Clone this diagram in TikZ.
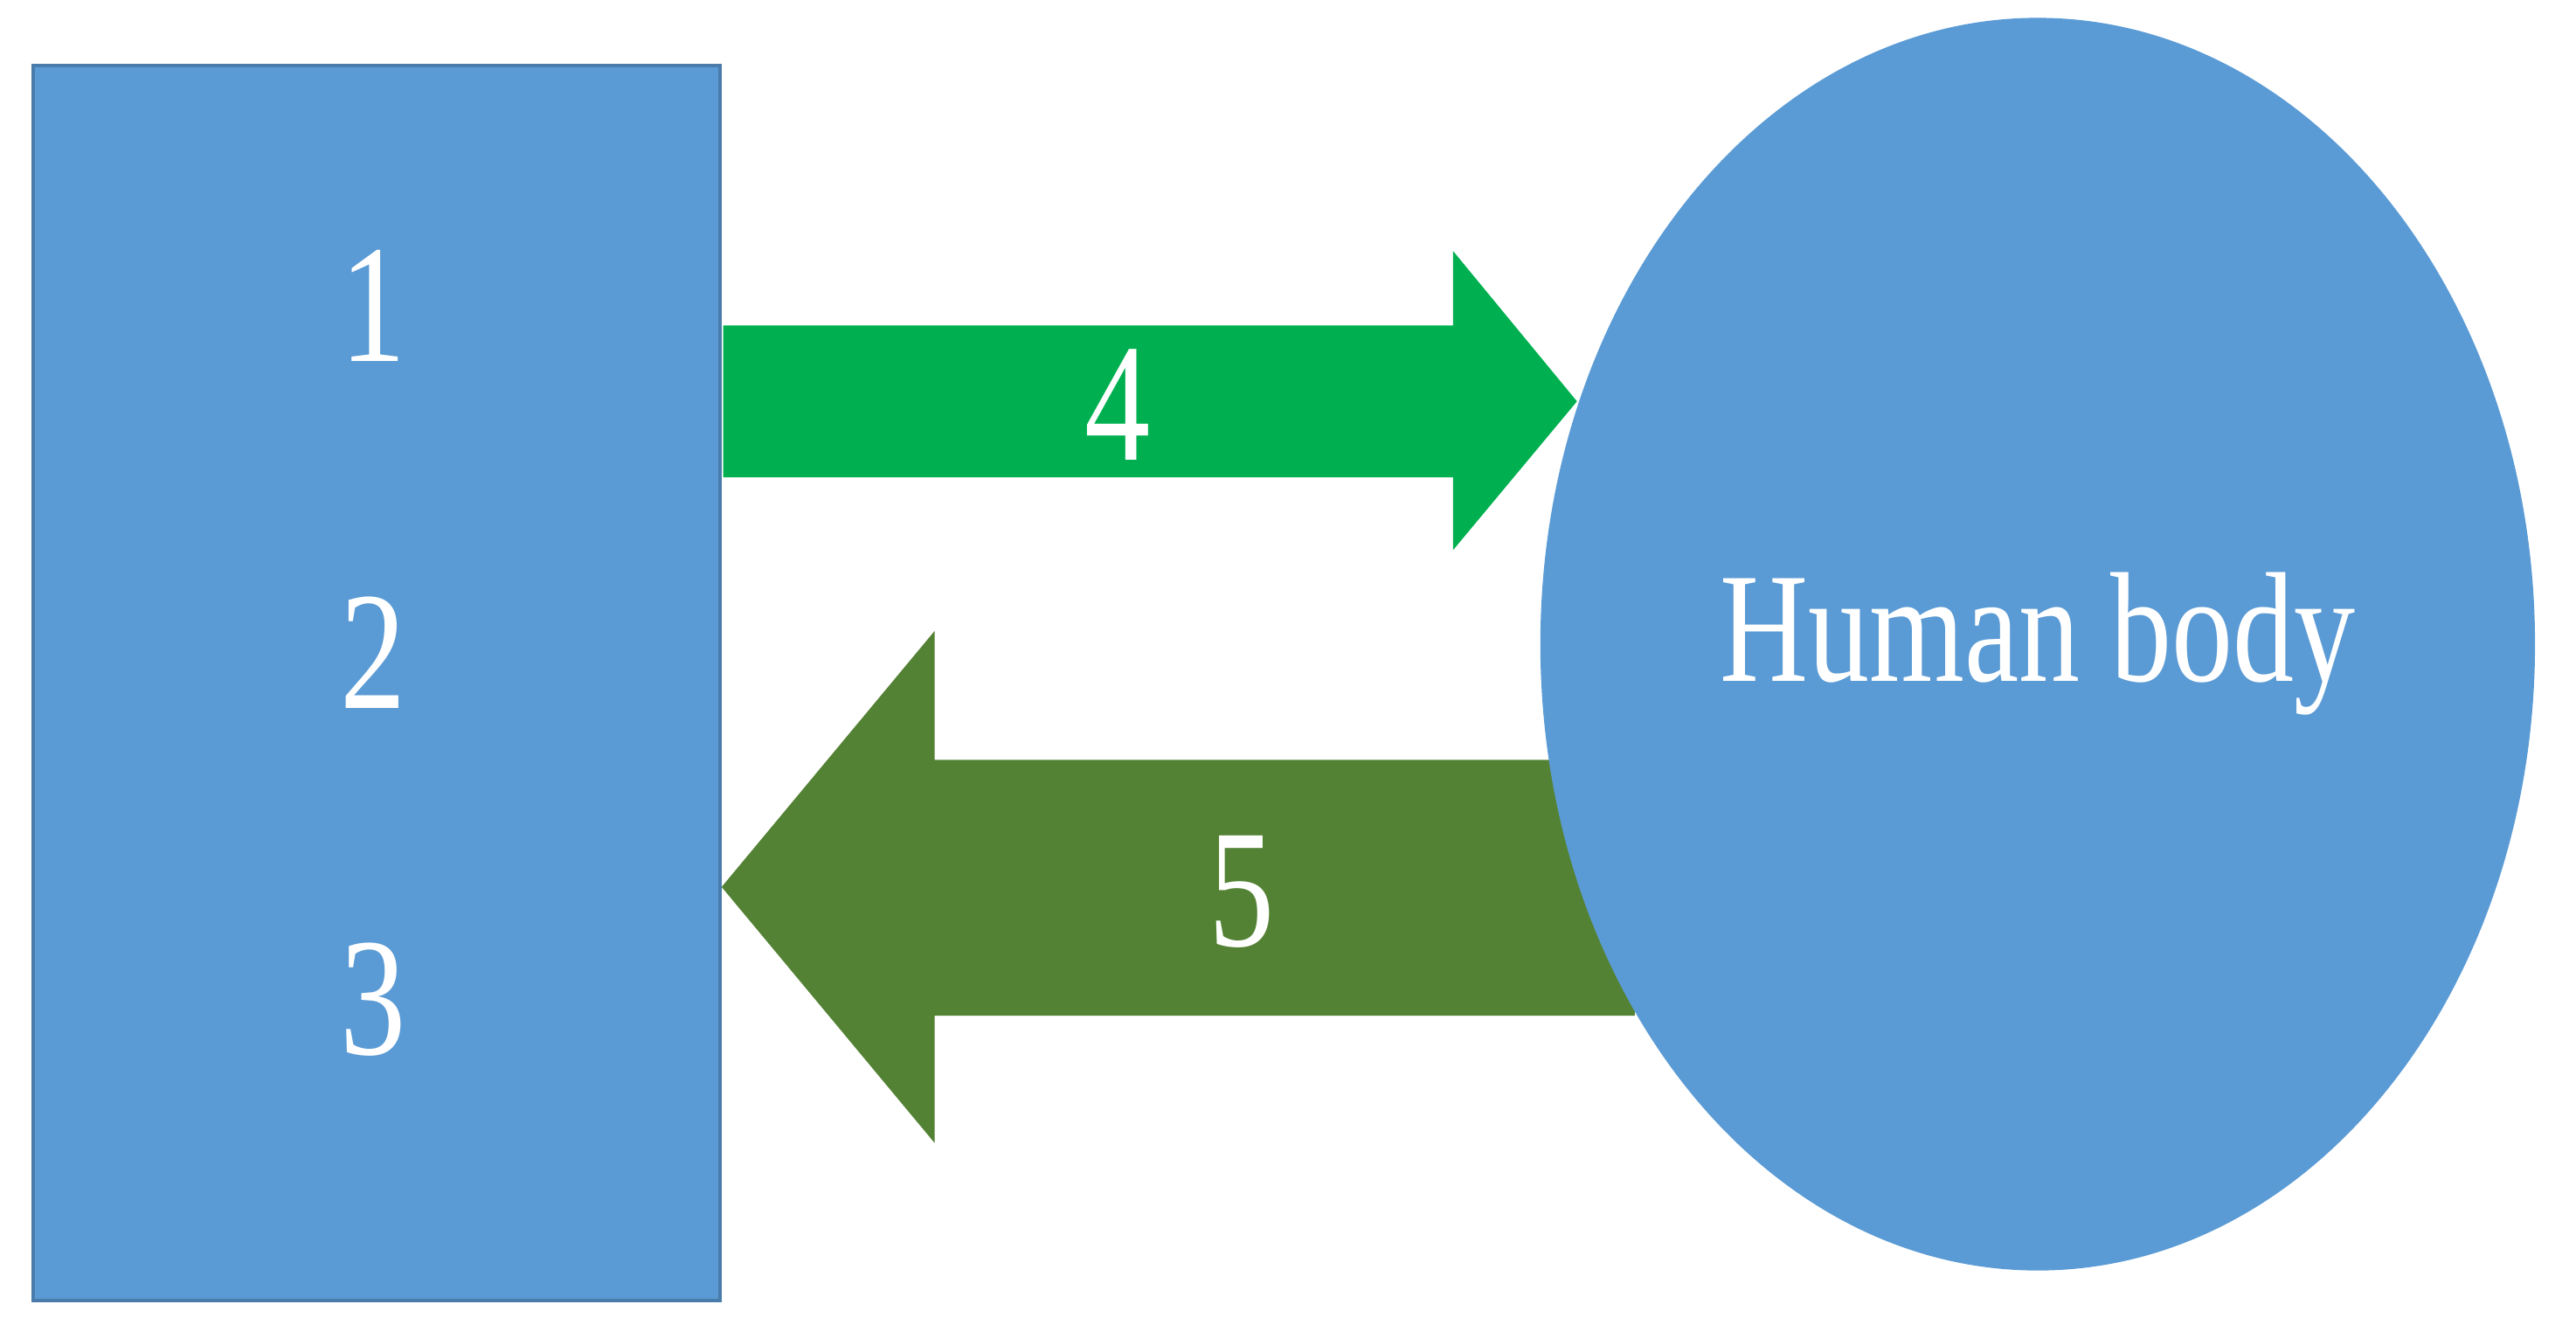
\documentclass[tikz,border=0pt]{standalone}
\usepackage{fontspec}
\setmainfont{Liberation Serif}[FakeStretch=0.78]
\usetikzlibrary{shapes.geometric}
\definecolor{boxblue}{HTML}{5B9BD5}
\definecolor{fwdgreen}{HTML}{00B050}
\definecolor{backgreen}{HTML}{548235}
\tikzstyle{block} = [rectangle, draw=boxblue!80!black, line width=0.6pt, fill=boxblue, minimum width=4.16cm, minimum height=7.47cm, inner sep=0pt]
\tikzstyle{body} = [ellipse, fill=boxblue, minimum width=6.02cm, minimum height=7.58cm, inner sep=0pt, text=white, font=\fontsize{27}{27}\selectfont]
\tikzstyle{num} = [text=white, font=\fontsize{29}{29}\selectfont]
\begin{document}
\begin{tikzpicture}[x=0.01cm, y=-0.01cm]
\useasboundingbox (0,0) rectangle (1560,802);

\node (box) [block] at (228,413.5) {};

% arrow 5 goes behind the body
\fill [backgreen] (990,460) -- (566,460) -- (566,382) -- (437,537) -- (566,692) -- (566,615) -- (990,615) -- cycle;

\node (hb) [body] at (1234,390) {Human body};

\fill [fwdgreen] (438,197) -- (880,197) -- (880,152) -- (955,243) -- (880,333) -- (880,289) -- (438,289) -- cycle;

\node (n1) [num] at (226,185) {1};
\node (n2) [num] at (226,395) {2};
\node (n3) [num] at (226,605) {3};
\node (n4) [num] at (677,245) {4};
\node (n5) [num] at (752,540) {5};

\end{tikzpicture}
\end{document}
